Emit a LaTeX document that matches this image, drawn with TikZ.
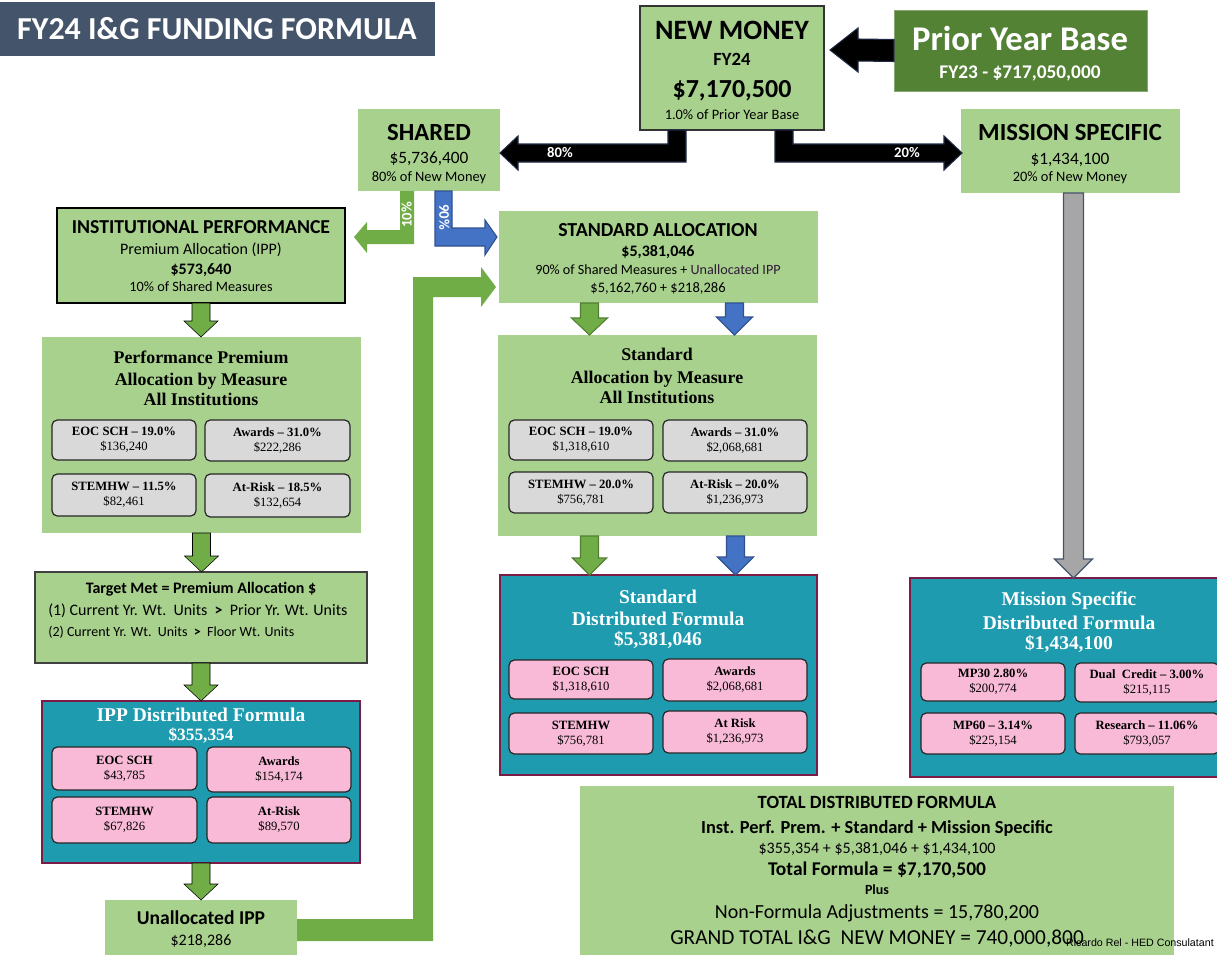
\documentclass[tikz,border=0pt]{standalone}
\usepackage{fontspec}
\setmainfont{Carlito}
\newfontfamily\tnr{Liberation Serif}
\newfontfamily\arialf{Liberation Sans}
\usetikzlibrary{calc}
\definecolor{titlec}{HTML}{44546A}
\definecolor{lgreen}{HTML}{A9D18E}
\definecolor{dgreen}{HTML}{548235}
\definecolor{garr}{HTML}{70AD47}
\definecolor{garrd}{HTML}{507E32}
\definecolor{barr}{HTML}{4472C4}
\definecolor{barrd}{HTML}{2F528F}
\definecolor{tealc}{HTML}{1E9BAE}
\definecolor{maroonc}{HTML}{7A1C45}
\definecolor{pinkc}{HTML}{F8BAD7}
\definecolor{greyc}{HTML}{D9D9D9}
\definecolor{greyarr}{HTML}{A6A6A6}
\definecolor{greyarrd}{HTML}{44546A}
\definecolor{navyd}{HTML}{1F2A44}
\definecolor{purp}{HTML}{2E1838}
\newcommand{\fs}[2]{\fontsize{#1}{#2}\selectfont}
% box node from pixel corners: [style]{name}{x1}{y1}{x2}{y2} then {text};
\newcommand{\bxn}[6][]{\node[#1,minimum width={(#5-#3)*0.75pt},minimum height={(#6-#4)*0.75pt},anchor=north west] (#2) at (#3,#4)}
% down block arrow: [style]{from}{to}{dx}{shaft half}{head half}{head length}
\newcommand{\dnarrow}[7][]{%
  \draw[#1] ($(#2.south)+(#4-#5,0)$) -- ($(#3.north -| #2.south)+(#4-#5,-#7)$)
   -- ($(#3.north -| #2.south)+(#4-#6,-#7)$) -- ($(#3.north -| #2.south)+(#4,0)$)
   -- ($(#3.north -| #2.south)+(#4+#6,-#7)$) -- ($(#3.north -| #2.south)+(#4+#5,-#7)$)
   -- ($(#2.south)+(#4+#5,0)$) -- cycle;}
\begin{document}
\begin{tikzpicture}[x=0.75pt,y=-0.75pt,
  bx/.style={inner sep=0pt,outer sep=0pt},
  lg/.style={bx,fill=lgreen},
  T/.style 2 args={inner sep=0pt,font=#2\fs{#1}{#1},text height=#1*0.64pt,text depth=0pt},
  sq/.style={bx,rounded corners=4pt,draw=black!85,line width=0.9pt,align=center,
    font=\tnr\fs{9.5}{11.3},execute at begin node={\rule{0pt}{10.5pt}}},
  gb/.style={sq,fill=greyc},
  pb/.style={sq,fill=pinkc},
  tb/.style={bx,fill=tealc,draw=maroonc,line width=1.6pt},
  ga/.style={fill=garr},
  gab/.style={fill=garr,draw=garrd,line width=0.8pt},
  bab/.style={fill=barr,draw=barrd,line width=0.8pt},
  ka/.style={fill=black,draw=navyd,line width=0.8pt},
  gra/.style={fill=greyarr,draw=greyarrd,line width=0.9pt},
  lab/.style={T={11}{\bfseries},text=white},
  wt/.style={T={14.6}{\tnr\bfseries},text=white},
]
\clip (0,0) rectangle (1217,954);
\fill[white] (0,0) rectangle (1217,954);

% ---------- title ----------
\bxn[bx,fill=titlec]{title}{0}{2}{435}{56} {};
\node[T={24}{\bfseries},text=white] (titlet) at (217,29) {FY24 I\&G FUNDING FORMULA};

% ---------- top boxes ----------
\bxn[lg,draw=black!80,line width=1pt]{nm}{640}{6}{824}{130} {};
\node[T={21}{\bfseries}] (nm1) at (732,31) {NEW MONEY};
\node[T={14}{\bfseries}] (nm2) at (732,60) {FY24};
\node[T={19.5}{\bfseries}] (nm3) at (732,89) {\$7,170,500};
\node[T={10.8}{}] (nm4) at (732,115) {1.0\% of Prior Year Base};

\bxn[bx,fill=dgreen,draw=dgreen!70!white,line width=0.6pt]{pyb}{894}{10}{1147}{91} {};
\node[T={26}{\bfseries},text=white] (pyb1) at (1020,39) {Prior Year Base};
\node[T={14.5}{\bfseries},text=white] (pyb2) at (1020,72) {FY23 - \$717,050,000};

\bxn[lg]{sh}{358}{109}{500}{191} {};
\node[T={18.5}{\bfseries}] (sh1) at (429,133) {SHARED};
\node[T={13}{}] (sh2) at (429,158) {\$5,736,400};
\node[T={10.8}{}] (sh3) at (429,177) {80\% of New Money};

\bxn[lg]{ms}{961}{109}{1180}{193} {};
\node[T={18.5}{\bfseries}] (ms1) at (1070,133) {MISSION SPECIFIC};
\node[T={13}{}] (ms2) at (1070,159) {\$1,434,100};
\node[T={10.8}{}] (ms3) at (1070,177) {20\% of New Money};

% ---------- left column ----------
\bxn[lg,draw=black,line width=1pt]{ipp}{57}{208}{345}{303} {};
\node[T={14.8}{\bfseries}] (ipp1) at (201,227) {INSTITUTIONAL PERFORMANCE};
\node[T={12}{}] (ipp2) at (201,249) {Premium Allocation (IPP)};
\node[T={12}{\bfseries}] (ipp3) at (201,269) {\$573,640};
\node[T={10.7}{}] (ipp4) at (201,287) {10\% of Shared Measures};

\bxn[lg]{perf}{42}{337}{361}{533} {};
\node[T={13.4}{\tnr\bfseries}] (perf1) at (201,358) {Performance Premium};
\node[T={13.4}{\tnr\bfseries}] (perf2) at (201,380) {Allocation by Measure};
\node[T={13.4}{\tnr\bfseries}] (perf3) at (201,400) {All Institutions};
\bxn[gb]{p1}{52}{420}{196}{460} {\textbf{EOC SCH – 19.0\%}\\\$136,240};
\bxn[gb]{p2}{205}{420}{350}{461} {\textbf{Awards – 31.0\%}\\\$222,286};
\bxn[gb]{p3}{52}{474}{196}{516} {\textbf{STEMHW – 11.5\%}\\\$82,461};
\bxn[gb]{p4}{205}{474}{350}{517} {\textbf{At-Risk – 18.5\%}\\\$132,654};

\bxn[lg,draw=black!75,line width=1pt]{tm}{35}{572}{367}{663} {};
\node[T={12}{\bfseries}] (tm1) at (201,588) {Target Met = Premium Allocation \$};
\node[T={12}{},anchor=west] (tm2) at (48,610) {(1) Current Yr. Wt.\ \ Units\ \ \textbf{>}\ \ Prior Yr. Wt. Units};
\node[T={10.5}{},anchor=west] (tm3) at (48,632) {(2) Current Yr. Wt.\ \ Units\ \ \textbf{>}\ \ Floor Wt. Units};

\bxn[tb]{ipd}{42}{701}{360}{863} {};
\node[wt] (ipd1) at (201,715) {IPP Distributed Formula};
\node[T={13}{\tnr\bfseries},text=white] (ipd2) at (201,735) {\$355,354};
\bxn[pb]{i1}{52}{747}{197}{790} {\textbf{EOC SCH}\\\$43,785};
\bxn[pb]{i2}{207}{747}{351}{792} {\textbf{Awards}\\\$154,174};
\bxn[pb]{i3}{52}{797}{197}{843} {\textbf{STEMHW}\\\$67,826};
\bxn[pb]{i4}{207}{797}{351}{843} {\textbf{At-Risk}\\\$89,570};

\bxn[lg]{ua}{105}{900}{297}{960} {};
\node[T={14.7}{\bfseries}] (ua1) at (201,918) {Unallocated IPP};
\node[T={12}{}] (ua2) at (201,940) {\$218,286};

% ---------- middle column ----------
\bxn[lg]{sa}{499}{211}{818}{303} {};
\node[T={14.9}{\bfseries}] (sa1) at (658,230) {STANDARD ALLOCATION};
\node[T={12}{\bfseries}] (sa2) at (658,251) {\$5,381,046};
\node[T={10.6}{}] (sa3) at (658,270) {90\% of Shared Measures + {\color{purp}Unallocated IPP}};
\node[T={10.9}{}] (sa4) at (658,288) {\$5,162,760 + \$218,286};

\bxn[lg]{bm}{498}{335}{817}{536} {};
\node[T={13.4}{\tnr\bfseries}] (bm1) at (657,355) {Standard};
\node[T={13.4}{\tnr\bfseries}] (bm2) at (657,378) {Allocation by Measure};
\node[T={13.4}{\tnr\bfseries}] (bm3) at (657,398) {All Institutions};
\bxn[gb]{s1}{509}{420}{653}{460} {\textbf{EOC SCH – 19.0\%}\\\$1,318,610};
\bxn[gb]{s2}{663}{420}{807}{461} {\textbf{Awards – 31.0\%}\\\$2,068,681};
\bxn[gb]{s3}{509}{472}{653}{513} {\textbf{STEMHW – 20.0\%}\\\$756,781};
\bxn[gb]{s4}{663}{472}{807}{513} {\textbf{At-Risk – 20.0\%}\\\$1,236,973};

\bxn[tb]{sd}{500}{575}{817}{775} {};
\node[wt] (sd1) at (658,597) {Standard};
\node[wt] (sd2) at (658,619) {Distributed Formula};
\node[wt] (sd3) at (658,639) {\$5,381,046};
\bxn[pb]{d1}{509}{660}{653}{699} {\textbf{EOC SCH}\\\$1,318,610};
\bxn[pb]{d2}{663}{659}{807}{701} {\textbf{Awards}\\\$2,068,681};
\bxn[pb]{d3}{509}{713}{653}{754} {\textbf{STEMHW}\\\$756,781};
\bxn[pb]{d4}{663}{711}{807}{753} {\textbf{At Risk}\\\$1,236,973};

% ---------- right column ----------
\bxn[tb]{msd}{910}{578}{1228}{777} {};
\node[wt] (msd1) at (1069,599) {Mission Specific};
\node[wt] (msd2) at (1069,623) {Distributed Formula};
\node[wt] (msd3) at (1069,643) {\$1,434,100};
\bxn[pb]{m1}{921}{663}{1065}{701} {\textbf{MP30 2.80\%}\\\$200,774};
\bxn[pb]{m2}{1075}{663}{1219}{702} {\textbf{Dual\ \ Credit – 3.00\%}\\\$215,115};
\bxn[pb]{m3}{921}{713}{1065}{754} {\textbf{MP60 – 3.14\%}\\\$225,154};
\bxn[pb]{m4}{1075}{713}{1219}{754} {\textbf{Research – 11.06\%}\\\$793,057};

\bxn[lg]{tot}{580}{786}{1174}{960} {};
\node[T={14}{\bfseries}] (tot1) at (877,803) {TOTAL DISTRIBUTED FORMULA};
\node[T={13.8}{\bfseries}] (tot2) at (877,828) {Inst. Perf. Prem. + Standard + Mission Specific};
\node[T={12}{}] (tot3) at (877,848) {\$355,354 + \$5,381,046 + \$1,434,100};
\node[T={14.6}{\bfseries}] (tot4) at (877,869) {Total Formula = \$7,170,500};
\node[T={10.5}{\bfseries}] (tot5) at (877,890) {Plus};
\node[T={15}{}] (tot6) at (877,912) {Non-Formula Adjustments = 15,780,200};
\node[T={16}{}] (tot7) at (877,938) {GRAND TOTAL I\&G\ \ NEW MONEY = 740,000,800};
\node[T={8}{\arialf},anchor=east] (credit) at (1214,943) {Ricardo Rel - HED Consulatant};

% ---------- connectors ----------
% prior year base -> new money
\coordinate (ptip) at ($(nm.north east)+(6,44)$);
\draw[ka] ($(pyb.west)+(0,-11)$) -- ($(ptip)+(28,-11)$) -- ($(ptip)+(28,-22)$) -- (ptip)
  -- ($(ptip)+(28,22)$) -- ($(ptip)+(28,11)$) -- ($(pyb.west)+(0,11)$) -- cycle;
% new money -> shared (80%)
\coordinate (s80) at ($(sh.east)+(0,3)$);
\draw[ka] ($(nm.south west)+(46,0)$) -- ($(nm.south west)+(46,32)$) -- ($(s80)+(18,9)$)
  -- ($(s80)+(18,17)$) -- (s80) -- ($(s80)+(18,-17)$) -- ($(s80)+(18,-9)$)
  -- ($(nm.south west)+(28,14)$) -- ($(nm.south west)+(28,0)$) -- cycle;
\node[lab] (l80) at (560,153) {80\%};
% new money -> mission specific (20%)
\coordinate (m20) at ($(ms.west)+(1,2)$);
\draw[ka] ($(nm.south west)+(135,0)$) -- ($(nm.south west)+(135,32)$) -- ($(m20)+(-18,9)$)
  -- ($(m20)+(-18,17)$) -- (m20) -- ($(m20)+(-18,-17)$) -- ($(m20)+(-18,-9)$)
  -- ($(nm.south west)+(153,14)$) -- ($(nm.south west)+(153,0)$) -- cycle;
\node[lab] (l20) at (907,153) {20\%};
% shared -> IPP (10%)
\coordinate (gtip) at ($(ipp.north east)+(9,29)$);
\fill[ga] ($(sh.south)+(-15,0)$) -- ($(sh.south)+(-15,53)$) -- ($(gtip)+(13,7)$)
  -- ($(gtip)+(13,16)$) -- (gtip) -- ($(gtip)+(13,-15)$) -- ($(gtip)+(13,-7)$)
  -- ($(sh.south)+(-29,39)$) -- ($(sh.south)+(-29,0)$) -- cycle;
\node[lab,rotate=90] (l10) at (407,215) {10\%};
% shared -> standard allocation (90%)
\coordinate (btip) at ($(sa.north west)+(-2,26)$);
\draw[bab] ($(sh.south)+(6,0)$) -- ($(sh.south)+(6,55)$) -- ($(btip)+(-12,9)$)
  -- ($(btip)+(-12,18)$) -- (btip) -- ($(btip)+(-12,-17)$) -- ($(btip)+(-12,-9)$)
  -- ($(sh.south)+(23,37)$) -- ($(sh.south)+(23,0)$) -- cycle;
\node[lab,rotate=-90] (l90) at (444,217) {90\%};
% unallocated IPP -> standard allocation
\coordinate (utip) at ($(sa.west)+(-3,30)$);
\fill[ga] ($(ua.east)+(0,11)$) -- ($(ua.east)+(136,11)$) -- ($(utip)+(-63,10)$)
  -- ($(utip)+(-15,10)$) -- ($(utip)+(-15,20)$) -- (utip) -- ($(utip)+(-15,-20)$)
  -- ($(utip)+(-15,-10)$) -- ($(utip)+(-83,-10)$) -- ($(ua.east)+(116,-11)$)
  -- ($(ua.east)+(0,-11)$) -- cycle;
% left column down arrows
\dnarrow[ga]{ipp}{perf}{0}{9}{17}{16}
\dnarrow[ga]{perf}{tm}{0}{9}{17}{16}
\dnarrow[ga]{tm}{ipd}{0}{9}{17}{16}
\dnarrow[ga]{ipd}{ua}{0}{9}{17}{16}
% middle column down arrows
\dnarrow[gab]{sa}{bm}{-69}{9}{18}{17}
\dnarrow[bab]{sa}{bm}{76}{9}{18}{18}
\dnarrow[gab]{bm}{sd}{-68}{9}{17}{17}
\dnarrow[bab]{bm}{sd}{78}{9}{18}{18}
% mission specific down arrow
\dnarrow[gra]{ms}{msd}{3}{10}{19}{19}
\end{tikzpicture}
\end{document}
